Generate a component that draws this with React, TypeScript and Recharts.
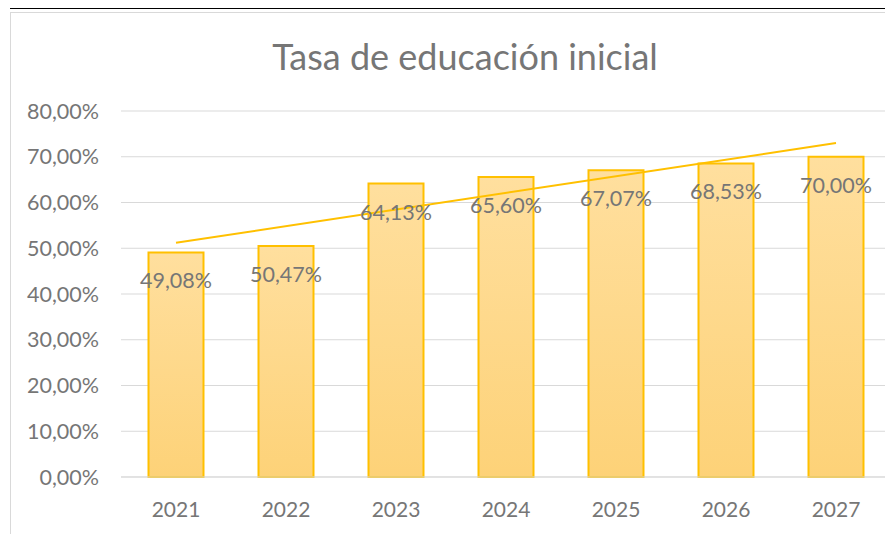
import { ComposedChart, Bar, Line, XAxis, YAxis, CartesianGrid, LabelList } from "recharts";

const years = ["2021", "2022", "2023", "2024", "2025", "2026", "2027"];
const rates = [49.08, 50.47, 64.13, 65.6, 67.07, 68.53, 70.0];
// linear trendline: start and end only
const trendValues = [51.2, null, null, null, null, null, 73.0];
const yTicks = [0, 10, 20, 30, 40, 50, 60, 70, 80];

const data = years.map((year, i) => ({ year, rate: rates[i], trend: trendValues[i] }));

const FONT = "Lato, 'Liberation Sans', sans-serif";
const GRAY = "#767676";

const pct = (v: number) => v.toFixed(2).replace(".", ",") + "%";

const renderLabel = (props: any) => {
  const { x, y, width, value } = props;
  return (
    <text
      x={x + width / 2}
      y={y + 28}
      textAnchor="middle"
      dominantBaseline="central"
      fill={GRAY}
      fontSize={21.5}
      fontFamily={FONT}
    >
      {pct(value)}
    </text>
  );
};

export default function App() {
  return (
    <div
      style={{
        position: "relative",
        width: 893,
        height: 534,
        margin: "-8px 0 0 -8px",
        overflow: "hidden",
        background: "#fff",
        fontFamily: FONT,
      }}
    >
      {/* black rule above the chart */}
      <div style={{ position: "absolute", left: 10, top: 7, width: 883, height: 2, background: "#000" }} />
      {/* chart frame */}
      <div
        style={{
          position: "absolute",
          left: 10,
          top: 12,
          width: 920,
          height: 560,
          border: "1px solid #d9d9d9",
        }}
      />
      <div
        style={{
          position: "absolute",
          left: 0,
          top: 34,
          width: 930,
          textAlign: "center",
          fontSize: 36,
          color: GRAY,
          lineHeight: "44px",
        }}
      >
        Tasa de educación inicial
      </div>
      <div style={{ position: "absolute", left: 0, top: 0 }}>
        <ComposedChart
          width={893}
          height={534}
          data={data}
          margin={{ top: 111, right: 2, left: 0, bottom: 0 }}
          barCategoryGap="25%"
        >
          <defs>
            <linearGradient id="barFill" x1="0" y1="0" x2="0" y2="1">
              <stop offset="0%" stopColor="#ffdf9e" />
              <stop offset="100%" stopColor="#fdd278" />
            </linearGradient>
          </defs>
          <CartesianGrid vertical={false} stroke="#d9d9d9" />
          <XAxis
            dataKey="year"
            axisLine={{ stroke: "#d9d9d9" }}
            tickLine={false}
            tickMargin={19}
            height={57}
            tick={{ fill: GRAY, fontSize: 21, fontFamily: FONT }}
          />
          <YAxis
            domain={[0, 80]}
            ticks={yTicks}
            width={121}
            axisLine={false}
            tickLine={false}
            tickMargin={16}
            tickFormatter={(v: number) => pct(v)}
            tick={{ fill: GRAY, fontSize: 21.5, fontFamily: FONT }}
          />
          <Bar dataKey="rate" fill="url(#barFill)" stroke="#ffc000" strokeWidth={2} isAnimationActive={false}>
            <LabelList dataKey="rate" content={renderLabel} />
          </Bar>
          <Line
            dataKey="trend"
            stroke="#ffc000"
            strokeWidth={2}
            dot={false}
            connectNulls
            isAnimationActive={false}
          />
        </ComposedChart>
      </div>
    </div>
  );
}
